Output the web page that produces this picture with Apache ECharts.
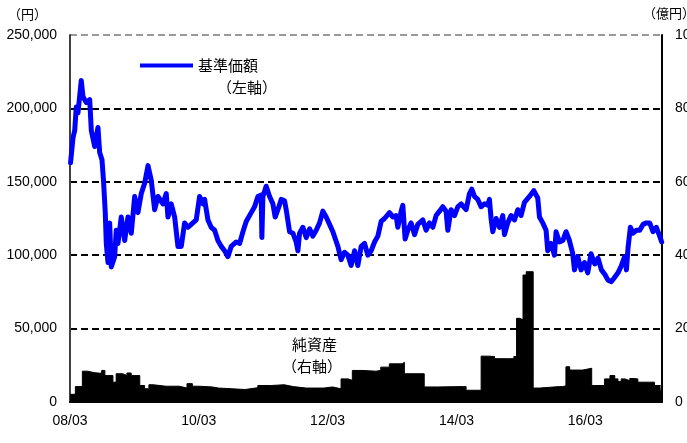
<!DOCTYPE html>
<html>
<head>
<meta charset="utf-8">
<script src="https://cdn.jsdelivr.net/npm/echarts@6/dist/echarts.min.js"></script>
<style>html,body{margin:0;padding:0;background:#fff}#c{width:687px;height:443px}</style>
</head>
<body>
<div id="c"></div>
<script>
// x positions are months elapsed since 2008/03
var tickLabels = ['08/03', '10/03', '12/03', '14/03', '16/03'];
var priceMonths = [0.1,0.56,0.88,1.17,1.49,2.1,2.42,3.04,3.67,3.97,4.6,5.21,5.53,5.96,6.24,6.57,6.76,7.08,7.39,7.69,8.32,8.62,8.94,9.55,10.19,10.8,11.42,12.05,12.66,13.28,13.91,14.53,15.14,15.77,16.39,17.32,17.93,18.25,18.86,19.5,20.11,20.73,21.36,21.97,22.9,23.52,24.15,24.77,25.08,25.7,26.31,26.95,27.56,28.18,28.81,29.42,30.04,30.97,31.6,32.22,32.83,33.76,34.39,35.01,35.62,35.75,35.94,36.55,37.19,37.8,38.23,38.73,39.35,39.98,40.28,40.91,41.53,42.14,42.46,42.77,43.39,44.01,44.64,45.25,45.87,46.5,47.11,47.73,48.36,48.98,49.91,50.52,51.15,51.77,52.38,53.02,53.63,54.25,54.88,55.49,56.11,56.74,57.36,57.97,58.6,59.53,60.15,60.76,61.08,61.7,62.01,62.44,62.94,63.56,64.19,64.8,65.74,66.35,66.98,67.6,68.21,68.85,69.46,70.07,70.39,71.01,71.64,72.25,72.87,73.18,73.8,74.43,74.86,75.36,75.98,76.59,77.22,77.84,78.15,78.45,78.77,79.39,80.02,80.63,80.95,81.56,82.18,82.81,83.43,84.04,84.67,85.61,86.41,87.15,87.47,88.08,88.7,89.01,89.63,90.26,90.56,91.19,91.81,92.42,93.05,93.67,93.99,94.6,95.22,95.85,96.46,97.08,97.77,98.38,99.01,99.63,100.24,100.88,101.49,102.1,102.74,103.35,103.67,103.97,104.41,104.9,105.53,106.15,106.76,107.39,108.01,108.62,109.25,109.87,110.24];
var priceValues = [163000,180000,185000,201000,197000,219000,208000,204000,206000,185000,174000,187000,170000,165000,151000,129000,108000,95000,122000,92000,99000,117000,108000,126000,110000,126000,115000,140000,129000,142000,149000,161000,151000,131000,140000,135000,142000,126000,135000,126000,106000,106000,122000,119000,122000,124000,140000,135000,138000,124000,119000,117000,110000,106000,103000,99000,106000,109000,108000,116000,123000,129000,133000,140000,141000,112000,140000,147000,140000,135000,126000,131000,138000,137000,131000,116000,115000,109000,103000,115000,119000,112000,118000,113000,117000,122000,130000,126000,121000,116000,106000,97000,102000,100000,93000,103000,93000,106000,108000,100000,103000,109000,113000,123000,125000,129000,126000,127000,119000,130000,134000,111000,117000,122000,114000,121000,124000,117000,122000,119000,127000,130000,133000,130000,117000,131000,127000,133000,135000,136000,131000,142000,145000,140000,138000,133000,135000,134000,138000,125000,116000,125000,119000,127000,114000,122000,127000,124000,131000,127000,136000,140000,144000,139000,126000,122000,117000,103000,108000,100000,116000,109000,110000,116000,110000,101000,90000,99000,90000,95000,88000,101000,94000,98000,90000,87000,83000,82000,85000,88000,93000,99000,90000,105000,119000,115000,117000,117000,121000,122000,122000,116000,119000,113000,109000];
// net assets (億円), value holds from each month until the next entry
var assetMonths = [0,1.0,2.3,3.3,4.5,5.9,6.5,8.0,8.6,9.8,10.2,10.6,11.4,13.0,13.9,14.7,15.5,17.9,20.4,21.8,22.8,24.0,25.3,26.5,27.7,30.2,32.6,35.0,37.5,39.9,41.6,44.0,47.3,48.9,50.5,51.8,52.6,54.6,57.0,57.9,59.5,61.9,62.3,66.0,68.5,73.3,73.8,76.6,77.8,79.1,81.5,82.7,83.2,83.8,84.4,85.0,86.3,87.5,91.2,91.8,92.4,93.1,95.5,97.2,99.6,100.6,101.5,102.1,102.7,103.4,104.3,104.9,105.8,108.9,110.0,110.3];
var assetValues = [21,42,84,80,78,86,72,54,77,75,72,79,72,45,36,47,43,43,38,50,43,42,41,38,36,34,39,45,47,42,38,38,41,36,63,59,86,84,86,95,104,108,77,41,42,42,32,125,124,118,118,124,228,224,346,355,38,42,42,44,96,87,92,45,63,72,63,56,63,58,64,63,54,45,41,41];

var priceData = priceMonths.map(function (m, i) { return [m, priceValues[i]]; });
var assetData = assetMonths.map(function (m, i) { return [m, assetValues[i]]; });

var jp = '"Noto Sans CJK JP", sans-serif';
var lat = '"Liberation Sans", Arial, sans-serif';
var chart = echarts.init(document.getElementById('c'), null, {renderer: 'canvas'});
chart.setOption({
  animation: false,
  backgroundColor: '#fff',
  grid: {left: 70, right: 25, top: 35, bottom: 41, containLabel: false, outerBoundsMode: 'none'},
  legend: {
    data: ['基準価額'], left: 140, top: 58, padding: 0, icon: 'rect', itemWidth: 53, itemHeight: 4,
    textStyle: {fontFamily: jp, fontSize: 15, color: '#000'}
  },
  graphic: [
    {type: 'text', left: 8, top: 8, style: {text: '（円）', font: '13px ' + jp, fill: '#000'}},
    {type: 'text', left: 643, top: 7, style: {text: '（億円）', font: '13px ' + jp, fill: '#000'}},
    {type: 'text', left: 217, top: 80, style: {text: '（左軸）', font: '15px ' + jp, fill: '#000'}},
    {type: 'text', left: 292, top: 337, style: {text: '純資産', font: '15px ' + jp, fill: '#000'}},
    {type: 'text', left: 282, top: 359, style: {text: '（右軸）', font: '15px ' + jp, fill: '#000'}}
  ],
  xAxis: {
    type: 'value', min: 0, max: 110.3, interval: 24,
    axisLine: {show: true, lineStyle: {color: '#000', width: 2}},
    axisTick: {show: false},
    splitLine: {show: false},
    axisLabel: {
      showMaxLabel: false, margin: 12, fontFamily: lat, fontSize: 14, color: '#000',
      formatter: function (v) { var k = Math.round(v / 24); return (Math.abs(v - k * 24) < 1e-6 && tickLabels[k]) ? tickLabels[k] : ''; }
    }
  },
  yAxis: [
    {
      type: 'value', min: 0, max: 250000, interval: 50000,
      axisLine: {show: true, lineStyle: {color: '#404040', width: 2}},
      axisTick: {show: false},
      splitLine: {show: true, lineStyle: {color: ['#000', '#000', '#000', '#000', '#000', '#999'], width: 2, type: [7, 4]}},
      axisLabel: {margin: 13, fontFamily: lat, fontSize: 14, color: '#000',
        formatter: function (v) { return v.toLocaleString('en-US'); }}
    },
    {
      type: 'value', min: 0, max: 1000, interval: 200, position: 'right',
      axisLine: {show: true, lineStyle: {color: '#000', width: 2}},
      axisTick: {show: false},
      splitLine: {show: false},
      axisLabel: {margin: 13, fontFamily: lat, fontSize: 14, color: '#000',
        formatter: function (v) { return String(v); }}
    }
  ],
  series: [
    {
      name: '純資産', type: 'line', yAxisIndex: 1, step: 'end', symbol: 'none',
      data: assetData, lineStyle: {color: '#000', width: 1}, itemStyle: {color: '#000'},
      areaStyle: {color: '#000', opacity: 1}, z: 2
    },
    {
      name: '基準価額', type: 'line', yAxisIndex: 0, symbol: 'none', showSymbol: false,
      data: priceData, lineStyle: {color: '#0000ff', width: 5, join: 'round', cap: 'round'},
      itemStyle: {color: '#0000ff'}, z: 3
    }
  ]
});
</script>
</body>
</html>
